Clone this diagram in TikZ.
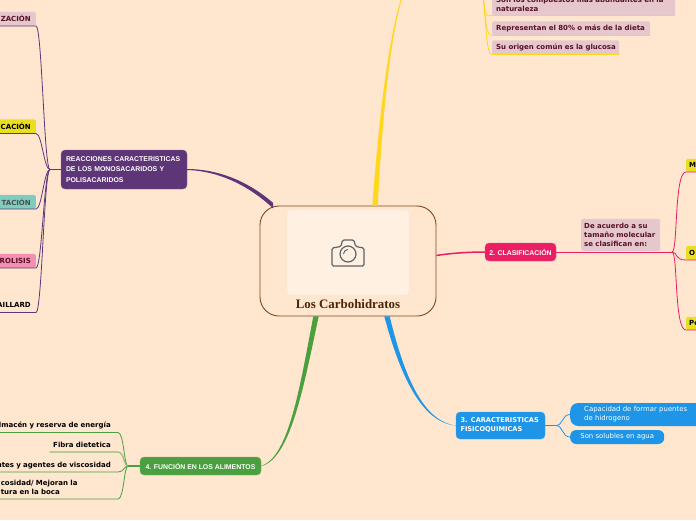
\documentclass[tikz,border=0pt]{standalone}
\usepackage{fontspec}
\usepackage{tikz}
\newfontfamily\notefont{DejaVu Sans}
\newfontfamily\headfont{Liberation Sans}
\newfontfamily\titlefont{Liberation Serif}
\definecolor{my_paper}{HTML}{FFE6CF}
\definecolor{my_brown}{HTML}{7A4A1E}
\definecolor{my_title}{HTML}{4A2508}
\definecolor{my_purple}{HTML}{5E3577}
\definecolor{my_pink}{HTML}{E91E63}
\definecolor{my_blue}{HTML}{1E95E6}
\definecolor{my_green}{HTML}{4AA03F}
\definecolor{my_yellow}{HTML}{FFD71F}
\definecolor{my_rose}{HTML}{E6C8CC}
\definecolor{my_maroon}{HTML}{560F2A}
\definecolor{my_lemon}{HTML}{EADF1E}
\definecolor{my_teal}{HTML}{7FCDC0}
\definecolor{my_candy}{HTML}{F48FB1}
\definecolor{my_camera}{HTML}{5F6368}
\tikzset{
    mainbox/.style={rectangle, rounded corners=4pt, font=\headfont\bfseries\fontsize{6.9}{12}\selectfont, text=white, align=left, inner sep=0pt},
    notebox/.style={rectangle, rounded corners=1.5pt, font=\notefont\bfseries\fontsize{7}{9}\selectfont, align=left, text=black, inner sep=0pt},
    bluebox/.style={rectangle, fill=my_blue, text=white, font=\notefont\fontsize{6.9}{9}\selectfont, align=left, inner sep=0pt}
}
% thick branch: colour, shift axis, start, control, control, end
\newcommand{\taper}[6]{
    \fill[#1] ([#2shift=-2.7pt]#3) .. controls ([#2shift=-1.9pt]#4) and ([#2shift=-0.9pt]#5) .. ([#2shift=-0.5pt]#6)
        -- ([#2shift=0.5pt]#6) .. controls ([#2shift=0.9pt]#5) and ([#2shift=1.9pt]#4) .. ([#2shift=2.7pt]#3) -- cycle;
}

\begin{document}
\begin{tikzpicture}[x=1pt, y=-1pt]

\useasboundingbox (0,0) rectangle (696,520);
\clip (0,0) rectangle (696,520);
\fill[my_paper] (0,0) rectangle (696,520);

% Central topic
\node[draw=my_brown, line width=0.9pt, rounded corners=19pt, fill=my_paper, minimum width=176pt, minimum height=110pt, inner sep=0pt] (root) at (348,261) {};
\node[draw=my_brown!12!white, rounded corners=3pt, fill=white!40!my_paper, minimum width=122pt, minimum height=85pt, inner sep=0pt] (photo) at (348,252.5) {};
\node[font=\titlefont\bfseries\fontsize{12.9}{14}\selectfont, text=my_title, inner sep=0pt] (title) at (348,304) {Los Carbohidratos};

% Camera icon
\draw[my_camera, line width=1.2pt, line join=round, rounded corners=1.5pt]
    (332,248) -- (341,246.5) -- (342.5,240) -- (354,240) -- (355.5,246.5) -- (364,248) -- (364,266) -- (332,266) -- cycle;
\draw[my_camera, line width=1.2pt] (348,254) circle (8);
\draw[my_camera, line width=0.9pt] (343.5,254) arc (180:270:4.5);

% Main topics
\node[mainbox, fill=my_purple, draw=my_purple!75!white, minimum width=126pt, minimum height=39pt, text width=116pt] (reactions) at (124,169.5) {REACCIONES CARACTERISTICAS\\[-1.6pt]DE LOS MONOSACARIDOS Y\\[-1.6pt]POLISACARIDOS};
\node[mainbox, fill=my_pink, draw=my_pink!75!white, minimum width=71pt, minimum height=18pt, align=center, font=\headfont\bfseries\fontsize{6.9}{9}\selectfont] (clasif) at (520.5,252) {2. CLASIFICACIÓN};
\node[mainbox, fill=my_blue, draw=my_blue!80!white, minimum width=89pt, minimum height=27pt, text width=80pt, font=\notefont\bfseries\fontsize{6.6}{9}\selectfont] (fisico) at (500.5,425.5) {3. CARACTERISTICAS\\FISICOQUIMICAS};
\node[mainbox, fill=my_green, draw=my_green!75!white, minimum width=121pt, minimum height=18pt, align=center, font=\headfont\bfseries\fontsize{6.9}{9}\selectfont] (funcion) at (200.5,466) {4. FUNCIÓN EN LOS ALIMENTOS};

% Branches from the central topic
\coordinate (yellowroot) at ([xshift=27pt]root.north);
\coordinate (purpleroot) at ([xshift=-75pt]root.north);
\coordinate (pinkroot) at ([yshift=5.5pt]root.east);
\coordinate (greenroot) at ([xshift=-32pt]root.south);
\coordinate (blueroot) at ([xshift=39pt]root.south);
\coordinate (yellowtop) at (401,0);
\taper{my_yellow}{x}{yellowroot}{380,130}{387,50}{yellowtop}
\taper{my_purple}{y}{purpleroot}{248,183}{218,170}{reactions.east}
\draw[my_pink, line width=1.5pt] (pinkroot) .. controls (452,253) and (470,252) .. (clasif.west);
\taper{my_green}{x}{greenroot}{302,385}{290,458}{funcion.east}
\taper{my_blue}{x}{blueroot}{402,375}{422,422}{fisico.west}

% Notes of the first topic
\coordinate (notestop) at (483,-4);
\node[notebox, fill=my_rose, text=my_maroon, minimum width=183pt, text width=175pt, minimum height=22pt, anchor=south west] (note1) at (492,15.5) {Son los compuestos más abundantes en la\\naturaleza};
\node[notebox, fill=my_rose, text=my_maroon, minimum width=158pt, text width=150pt, minimum height=14pt, anchor=south west] (note2) at (492,35.5) {Representan el 80\% o más de la dieta};
\node[notebox, fill=my_rose, text=my_maroon, minimum width=127pt, text width=125pt, minimum height=14pt, anchor=south west] (note3) at (492,54.5) {\hspace*{3pt}Su origen común es la glucosa};
\foreach \n in {note1, note2, note3} {
    \draw[my_yellow, line width=0.8pt] (notestop) .. controls (486,20) and ([xshift=-6pt]\n.south west) .. (\n.south west) -- (\n.south east);
}

% Size note and its children
\node[notebox, fill=my_rose, text=my_maroon, minimum width=79pt, minimum height=32pt, text width=73pt, anchor=south west] (size) at (581,251) {De acuerdo a su\\tamaño molecular\\se clasifican en:};
\coordinate (sizefork) at (672,252);
\draw[my_pink, line width=0.8pt] (clasif.east) -- (sizefork);
\node[notebox, fill=my_lemon, minimum width=20pt, minimum height=13pt, anchor=south west, text width=14pt] (mono) at (686,172) {M};
\node[notebox, fill=my_lemon, minimum width=20pt, minimum height=14pt, anchor=south west, text width=14pt] (oligo) at (686,260) {O};
\node[notebox, fill=my_lemon, minimum width=20pt, minimum height=13pt, anchor=south west, text width=14pt] (poli) at (686,330) {Po};
\foreach \n in {mono, oligo, poli} {
    \draw[my_pink, line width=0.8pt] (sizefork) .. controls (678,252) and ([xshift=-12pt]\n.south west) .. (\n.south west) -- (\n.south east);
}

% Reactions and their leaves
\coordinate (purplefork) at (50,169.5);
\draw[my_purple, line width=0.8pt] (reactions.west) -- (purplefork);
\node[notebox, fill=my_rose, text=my_maroon, minimum width=50pt, minimum height=14pt, text width=40pt, align=right, anchor=south east] (isomer) at (36,26) {ZACIÓN};
\node[notebox, fill=my_lemon, minimum width=50pt, minimum height=14pt, text width=40pt, align=right, anchor=south east] (oxid) at (36,133.5) {CACIÓN};
\node[notebox, fill=my_teal, text=black!70, minimum width=50pt, minimum height=14pt, text width=40pt, align=right, anchor=south east] (ferment) at (36,209) {TACIÓN};
\node[notebox, fill=my_candy, text=my_maroon, minimum width=50pt, minimum height=14pt, text width=40pt, align=right, anchor=south east] (hidro) at (36,268) {ROLISIS};
\node[notebox, minimum width=50pt, minimum height=14pt, text width=40pt, align=right, anchor=south east] (maillard) at (36,312.5) {AILLARD};
\foreach \n in {isomer, oxid, ferment, hidro, maillard} {
    \draw[my_purple, line width=0.8pt] (purplefork) .. controls (44,169.5) and ([xshift=6pt]\n.south east) .. (\n.south east) -- (\n.south west);
}

% Blue leaves
\coordinate (bluefork) at (556,425.5);
\draw[my_blue, line width=0.8pt] (fisico.east) -- (bluefork);
\node[bluebox, rounded corners=8pt, minimum width=150pt, minimum height=23pt, text width=136pt, anchor=west] (puentes) at (570,414.5) {\hspace*{7pt}Capacidad de formar puentes\\\hspace*{7pt}de hidrogeno};
\node[bluebox, rounded corners=6pt, minimum width=94pt, minimum height=14pt, anchor=west, align=center] (solubles) at (570,437) {Son solubles en agua};
\draw[my_blue, line width=0.8pt] (bluefork) .. controls (563,425.5) and (562,414.5) .. (puentes.west);
\draw[my_blue, line width=0.8pt] (bluefork) .. controls (563,425.5) and (562,437) .. (solubles.west);

% Green leaves
\coordinate (greenfork) at (128,466);
\draw[my_green, line width=1.1pt] (funcion.west) -- (greenfork);
\node[notebox, text width=130pt, minimum height=13pt, align=right, anchor=south east] (almacen) at (118,432.5) {lmacén y reserva de energía\hspace*{7pt}};
\node[notebox, minimum width=68pt, text width=64pt, minimum height=13pt, align=right, anchor=south east] (fibra) at (118,452) {Fibra dietetica\hspace*{5pt}};
\node[notebox, text width=130pt, minimum height=13pt, align=right, anchor=south east] (agentes) at (118,472) {ntes y agentes de viscosidad\hspace*{7pt}};
\node[notebox, minimum width=118pt, text width=116pt, minimum height=22pt, anchor=south east] (textura) at (118,499) {cosidad/ Mejoran la\\tura en la boca};
\foreach \n in {almacen, agentes, textura} {
    \draw[my_green, line width=0.8pt] (greenfork) .. controls (124,466) and ([xshift=6pt]\n.south east) .. (\n.south east) -- (\n.south west);
}
\draw[my_green!60!my_paper, line width=1.2pt] (greenfork) .. controls (124,466) and ([xshift=6pt]fibra.south east) .. (fibra.south east) -- (fibra.south west);

\end{tikzpicture}
\end{document}
